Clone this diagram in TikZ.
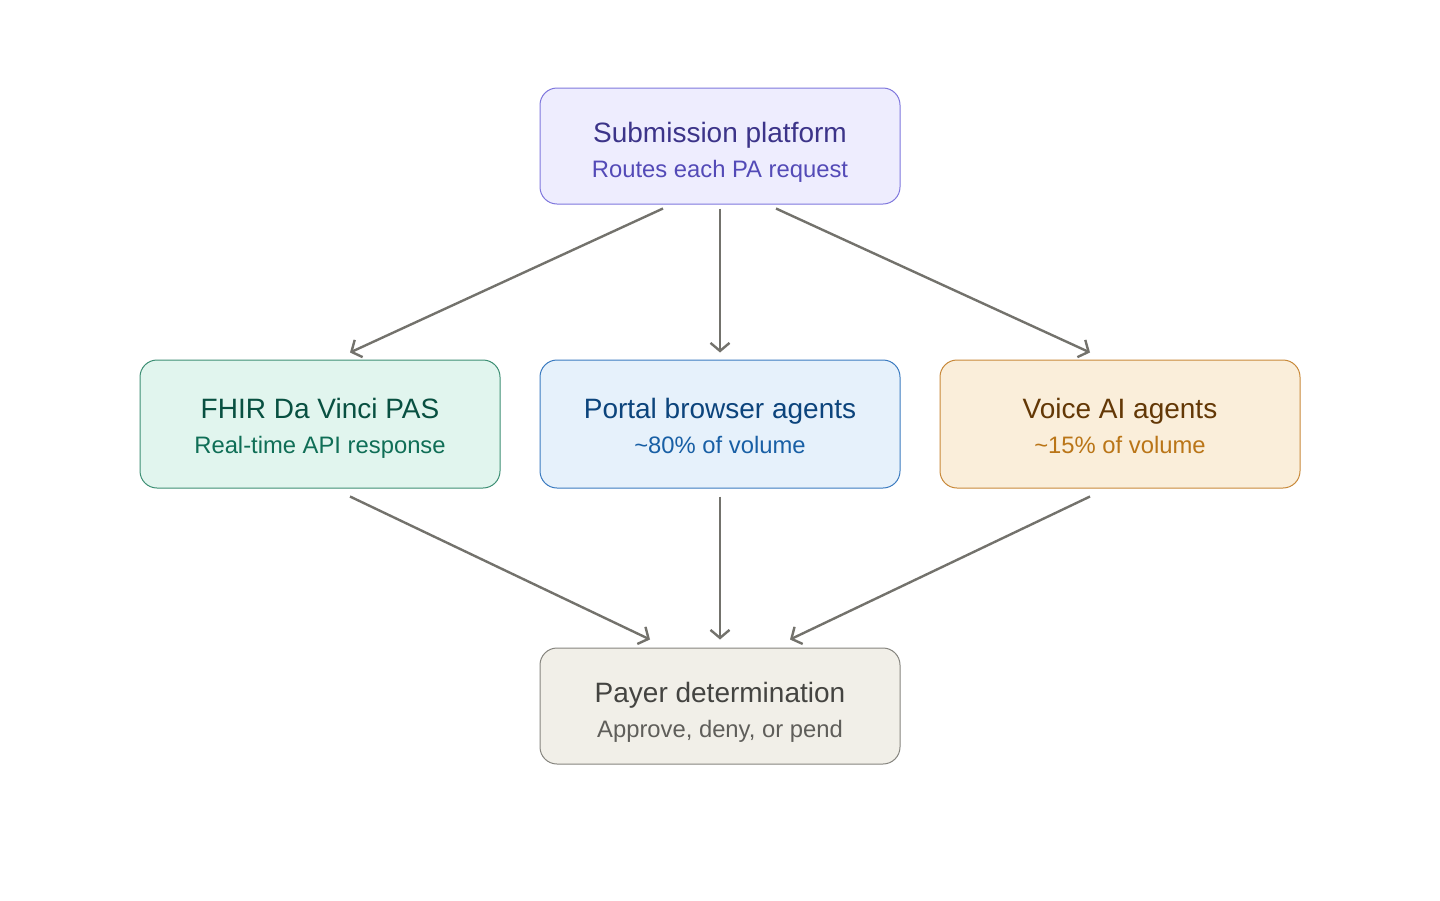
\documentclass[tikz,border=0pt]{standalone}
\usepackage{fontspec}
\setmainfont{Liberation Sans}
\usetikzlibrary{arrows.meta}
\definecolor{pFill}{HTML}{EEEDFE}\definecolor{pLine}{HTML}{7F77DD}\definecolor{pT}{HTML}{3C3489}\definecolor{pS}{HTML}{534AB7}
\definecolor{gFill}{HTML}{E1F5EE}\definecolor{gLine}{HTML}{3D8F74}\definecolor{gT}{HTML}{085041}\definecolor{gS}{HTML}{0F6E56}
\definecolor{bFill}{HTML}{E6F1FB}\definecolor{bLine}{HTML}{3B7BC0}\definecolor{bT}{HTML}{0C447C}\definecolor{bS}{HTML}{185FA5}
\definecolor{oFill}{HTML}{FAEEDA}\definecolor{oLine}{HTML}{C8893A}\definecolor{oT}{HTML}{633806}\definecolor{oS}{HTML}{BA7517}
\definecolor{kFill}{HTML}{F1EFE8}\definecolor{kLine}{HTML}{86857F}\definecolor{kT}{HTML}{444441}\definecolor{kS}{HTML}{5F5E5A}
\definecolor{arr}{HTML}{73726C}
\begin{document}
\begin{tikzpicture}[x=1pt,y=-1pt,
  box/.style={draw, line width=1pt, rounded corners=17pt, minimum width=360pt, inner sep=0pt},
  ttl/.style={anchor=base, font=\fontsize{28}{32}\selectfont},
  sub/.style={anchor=base, font=\fontsize{23.8}{28}\selectfont},
  link/.style={draw=arr, line width=2.4pt, -{Straight Barb[length=8pt,width=19pt,line width=2.4pt]}}]
\useasboundingbox (0,0) rectangle (1440,900);
% boxes
\node[box, fill=pFill, draw=pLine, minimum height=116pt] (top) at (720,146) {};
\node[box, fill=gFill, draw=gLine, minimum height=128pt] (left) at (320,424) {};
\node[box, fill=bFill, draw=bLine, minimum height=128pt] (mid) at (720,424) {};
\node[box, fill=oFill, draw=oLine, minimum height=128pt] (right) at (1120,424) {};
\node[box, fill=kFill, draw=kLine, minimum height=116pt] (bot) at (720,706) {};
% texts
\node[ttl, text=pT] (topT) at (720,142) {Submission platform};
\node[sub, text=pS] (topS) at (720,177) {Routes each PA request};
\node[ttl, text=gT] (leftT) at (320,418) {FHIR Da Vinci PAS};
\node[sub, text=gS] (leftS) at (320,453) {Real-time API response};
\node[ttl, text=bT] (midT) at (720,418) {Portal browser agents};
\node[sub, text=bS] (midS) at (720,453) {\textasciitilde 80\% of volume};
\node[ttl, text=oT] (rightT) at (1120,418) {Voice AI agents};
\node[sub, text=oS] (rightS) at (1120,453) {\textasciitilde 15\% of volume};
\node[ttl, text=kT] (botT) at (720,702) {Payer determination};
\node[sub, text=kS] (botS) at (720,737) {Approve, deny, or pend};
% connectors
\draw[link] ([xshift=-57pt,yshift=-4pt]top.south) -- ([xshift=30pt,yshift=7pt]left.north);
\draw[link] ([yshift=-4pt]top.south) -- ([yshift=7pt]mid.north);
\draw[link] ([xshift=56pt,yshift=-4pt]top.south) -- ([xshift=-30pt,yshift=7pt]right.north);
\draw[link] ([xshift=30pt,yshift=-8pt]left.south) -- ([xshift=-70pt,yshift=8pt]bot.north);
\draw[link] ([yshift=-8pt]mid.south) -- ([yshift=8pt]bot.north);
\draw[link] ([xshift=-30pt,yshift=-8pt]right.south) -- ([xshift=70pt,yshift=8pt]bot.north);
\end{tikzpicture}
\end{document}
